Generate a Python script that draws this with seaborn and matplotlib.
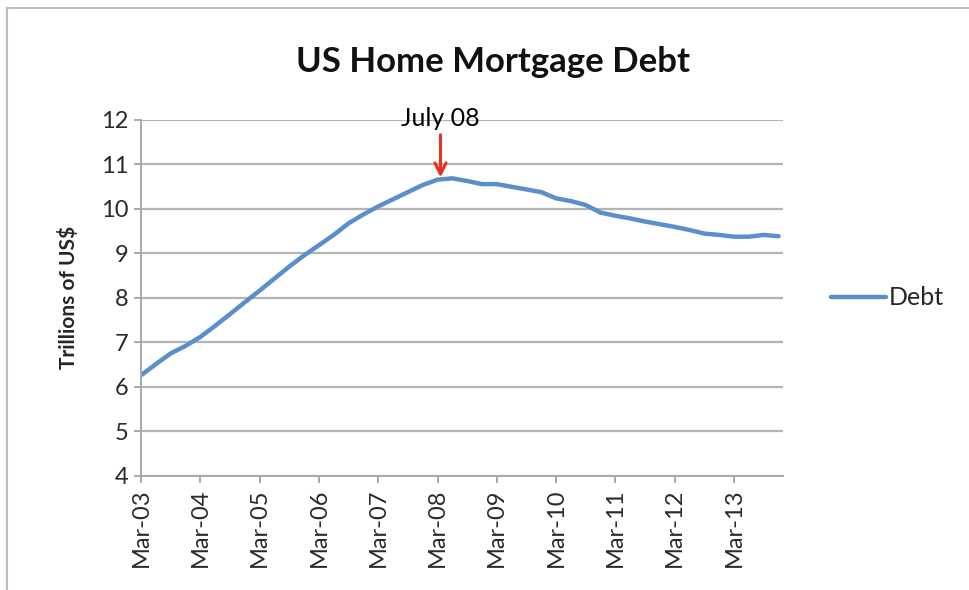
import pandas as pd
import matplotlib.pyplot as plt
import seaborn as sns
from matplotlib.lines import Line2D

# Quarterly US home mortgage debt, trillions of US$ (Mar-03 .. Dec-13)
quarters = [f"{m}-{y:02d}" for y in range(3, 14) for m in ["Mar", "Jun", "Sep", "Dec"]]
debt = [6.26, 6.51, 6.75, 6.92,
        7.12, 7.37, 7.63, 7.90,
        8.16, 8.43, 8.70, 8.95,
        9.18, 9.41, 9.67, 9.87,
        10.05, 10.21, 10.37, 10.53,
        10.65, 10.68, 10.62, 10.55,
        10.55, 10.49, 10.43, 10.37,
        10.23, 10.17, 10.08, 9.91,
        9.84, 9.78, 9.71, 9.65,
        9.59, 9.52, 9.44, 9.41,
        9.37, 9.37, 9.41, 9.38]
tick_labels = [q for q in quarters if q.startswith("Mar")]

df = pd.DataFrame({"idx": range(len(quarters)), "quarter": quarters, "Debt": debt})

sns.set_style("white")
plt.rcParams['font.family'] = ['Lato', 'DejaVu Sans']

fig = plt.figure(figsize=(9.69, 5.90), dpi=100)
ax = fig.add_axes([141 / 969, 1 - 476 / 590, (783 - 141) / 969, (476 - 119.5) / 590])

sns.lineplot(data=df, x="idx", y="Debt", ax=ax, color="#5a8fcb", linewidth=3.2,
             label="Debt", solid_capstyle="round")

ax.set_xlim(0, 43.3)
ax.set_ylim(4, 12)
ax.set_yticks(range(4, 13))
ax.set_xticks(df["idx"][::4])
ax.set_xticklabels(tick_labels, rotation=90)
ax.tick_params(axis="both", labelsize=17, length=5, width=1.2,
               direction="out", bottom=True, left=True)
ax.tick_params(axis="x", pad=4, colors="#999999", labelcolor="#2a2a2a")
ax.tick_params(axis="y", pad=4, colors="#999999", labelcolor="#2a2a2a")
ax.grid(axis="y", color="#b4b4b4", linewidth=1.6)
for side in ["top", "right"]:
    ax.spines[side].set_visible(False)
for side in ["left", "bottom"]:
    ax.spines[side].set_color("#a8a8a8")
    ax.spines[side].set_linewidth(1.4)

ax.set_xlabel("")
ax.set_ylabel("Trillions of US$", fontsize=15, fontweight="bold", labelpad=16)
fig.text(493 / 969, 1 - 62 / 590, "US Home Mortgage Debt", ha="center", va="center",
         fontsize=25, fontweight="bold", color="#111111")

# peak annotation
ax.annotate("July 08", xy=(20.2, 10.7), xytext=(20.2, 12.02),
            ha="center", va="center", fontsize=18, color="black",
            arrowprops=dict(arrowstyle="->", color="#e8321e", lw=2.2,
                            shrinkA=1, shrinkB=0, mutation_scale=20))

ax.legend(loc="center left", bbox_to_anchor=(1.075, 0.5), frameon=False,
          fontsize=18, handlelength=2.2, handletextpad=0.1,
          borderaxespad=0, borderpad=0)

# light frame edges (top and left) around the chart area
fig.add_artist(Line2D([7 / 969, 1], [1 - 8 / 590, 1 - 8 / 590], transform=fig.transFigure,
                      color="#bdbdbd", linewidth=1.5))
fig.add_artist(Line2D([7 / 969, 7 / 969], [0, 1 - 8 / 590], transform=fig.transFigure,
                      color="#bdbdbd", linewidth=1.5))

fig.savefig("out.png", dpi=100)
